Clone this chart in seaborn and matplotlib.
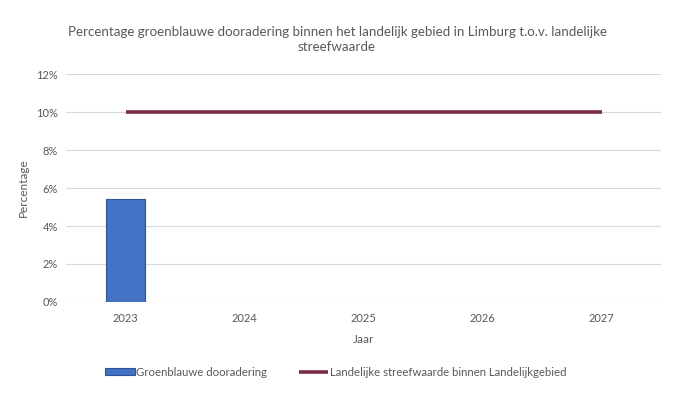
import matplotlib
matplotlib.use("Agg")
import matplotlib.pyplot as plt
from matplotlib.ticker import PercentFormatter, MultipleLocator
from matplotlib.patches import Patch
from matplotlib.lines import Line2D
import seaborn as sns
import pandas as pd
import numpy as np

years = ["2023", "2024", "2025", "2026", "2027"]
groenblauw = [5.4, np.nan, np.nan, np.nan, np.nan]
streefwaarde = [10, 10, 10, 10, 10]

title = "Percentage groenblauwe dooradering binnen het landelijk gebied in Limburg t.o.v. landelijke\nstreefwaarde"
bar_label = "Groenblauwe dooradering"
line_label = "Landelijke streefwaarde binnen Landelijkgebied"

df = pd.DataFrame({"Jaar": years, "groen": groenblauw, "streef": streefwaarde})

sns.set_theme(style="white")
plt.rcParams["font.family"] = ["Lato", "DejaVu Sans"]

bar_color = "#4472C4"
bar_edge = "#2F5597"
line_color = "#7B2C45"
text_color = "#595959"

fig = plt.figure(figsize=(6.85, 3.96), dpi=100)
ax = fig.add_axes([0.0964, 0.2374, 0.8686, 0.5756])

sns.barplot(data=df, x="Jaar", y="groen", color=bar_color, width=0.32,
            edgecolor=bar_edge, linewidth=0.8, saturation=1, ax=ax, zorder=3)
sns.pointplot(data=df, x="Jaar", y="streef", color=line_color, markers="",
              linewidth=2.6, errorbar=None, ax=ax, zorder=4)
for ln in ax.lines:
    ln.set_solid_capstyle("butt")

ax.set_xlim(-0.5, 4.5)
ax.set_ylim(0, 12)
ax.yaxis.set_major_locator(MultipleLocator(2))
ax.yaxis.set_major_formatter(PercentFormatter(100, decimals=0))
ax.grid(axis="y", color="#D9D9D9", linewidth=0.8, zorder=0)
ax.set_axisbelow(True)
for s in ax.spines.values():
    s.set_visible(False)
ax.tick_params(axis="both", length=0, labelsize=8, colors=text_color, pad=8)
ax.tick_params(axis="y", pad=6)

ax.set_xlabel("Jaar", fontsize=8.5, color=text_color, labelpad=7)
ax.set_ylabel("Percentage", fontsize=8.5, color=text_color, labelpad=5)
fig.suptitle(title, fontsize=9.6, color=text_color, x=0.492, y=0.935, linespacing=1.3)

handles = [Patch(facecolor=bar_color, edgecolor=bar_edge, linewidth=0.8),
           Line2D([0], [0], color=line_color, linewidth=2.6, solid_capstyle="butt")]
fig.legend(handles, [bar_label, line_label], loc="center", bbox_to_anchor=(0.49, 0.06),
           ncol=2, frameon=False, fontsize=8.2, labelcolor=text_color,
           handlelength=2.6, handleheight=0.6, handletextpad=0.1, columnspacing=2.8)

fig.savefig("out.png", dpi=100)
